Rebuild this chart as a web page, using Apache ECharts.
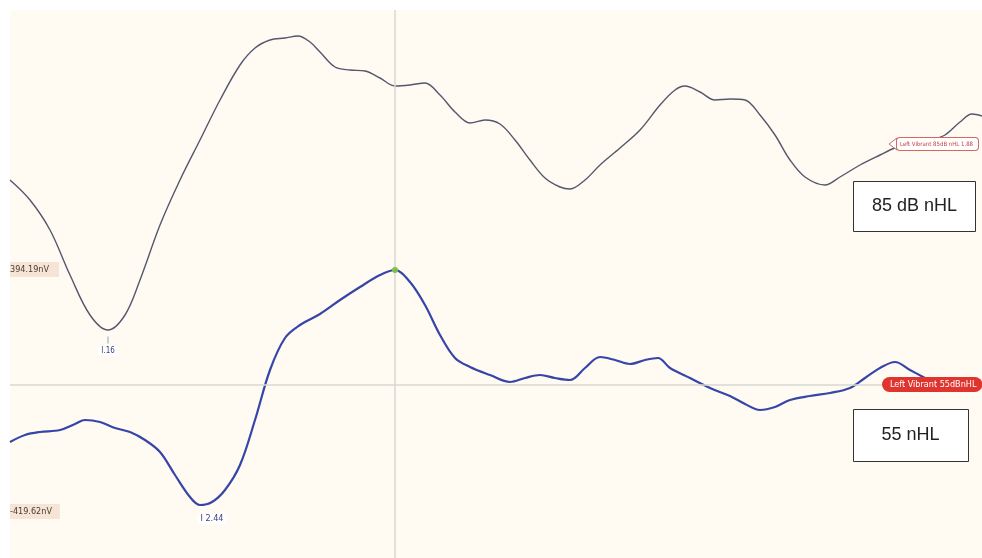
<!DOCTYPE html>
<html>
<head>
<meta charset="utf-8">
<script src="https://cdn.jsdelivr.net/npm/echarts@6/dist/echarts.min.js"></script>
<style>
  html, body { margin: 0; padding: 0; background: #fff; }
  #abrChart { width: 982px; height: 558px; }
</style>
</head>
<body>
<div id="abrChart"></div>
<script>
// time in ms, amplitude in display units (0 = baseline of the 55 dB trace)
var topTime = [0, 0.2, 0.4, 0.6, 0.8, 0.98, 1.15, 1.3, 1.5, 1.7, 1.9, 2.1, 2.3, 2.45, 2.6, 2.75, 2.88, 3.0, 3.1, 3.25,
  3.4, 3.55, 3.7, 3.85, 4.0, 4.15, 4.3, 4.45, 4.6, 4.75, 4.9, 5.05, 5.2, 5.35, 5.5, 5.6, 5.75, 5.9, 6.1, 6.3,
  6.5, 6.65, 6.75, 6.9, 7.05, 7.2, 7.35, 7.5, 7.65, 7.8, 7.95, 8.15, 8.3, 8.5, 8.7, 8.85, 9.0, 9.2, 9.35, 9.5, 9.62, 9.72];
var topAmp = [205, 185, 155, 110, 70, 55, 70, 105, 160, 205, 245, 285, 320, 337, 345, 347, 349, 343, 333, 318,
  315, 314, 307, 299, 300, 302, 290, 273, 262, 265, 261, 245, 225, 207, 198, 196, 205, 220, 237, 255,
  280, 295, 299, 293, 285, 286, 285, 270, 250, 225, 208, 200, 208, 220, 230, 237, 240, 245, 250, 263, 271, 269];

var bottomTime = [0, 0.15, 0.3, 0.5, 0.65, 0.75, 0.9, 1.05, 1.2, 1.35, 1.5, 1.65, 1.8, 1.9, 2.02, 2.15, 2.3, 2.45, 2.6, 2.75,
  2.9, 3.1, 3.3, 3.5, 3.7, 3.85, 4.0, 4.15, 4.3, 4.45, 4.6, 4.8, 5.0, 5.15, 5.3, 5.45, 5.6, 5.75, 5.9, 6.05,
  6.2, 6.35, 6.48, 6.6, 6.8, 7.0, 7.2, 7.35, 7.5, 7.65, 7.8, 8.0, 8.2, 8.4, 8.55, 8.7, 8.85, 9.0, 9.15];
var bottomAmp = [-57, -50, -47, -45, -39, -35, -37, -43, -47, -55, -67, -90, -112, -120, -117, -105, -80, -35, 15, 47,
  60, 71, 85, 98, 110, 115, 103, 80, 50, 27, 18, 10, 3, 7, 10, 7, 5, 17, 28, 25,
  21, 25, 27, 17, 7, -3, -11, -19, -25, -22, -15, -11, -8, -3, 7, 17, 23, 15, 7];

var cursorTime = 3.85;
var topWaveI = [0.98, 55];
var bottomWaveI = [1.9, -120];
var bottomPeak = [3.85, 115];

function pairs(xs, ys) {
    return xs.map(function (x, i) { return [x, ys[i]]; });
}

var chart = echarts.init(document.getElementById('abrChart'));

chart.setOption({
    animation: false,
    backgroundColor: '#ffffff',
    grid: {
        left: 10, right: 0, top: 10, bottom: 0,
        show: true,
        backgroundColor: '#fffaf2',
        borderWidth: 0
    },
    xAxis: {
        type: 'value', min: 0, max: 9.72,
        show: false
    },
    yAxis: {
        type: 'value', min: -173, max: 375,
        show: false
    },
    graphic: [
        // left amplitude tags
        {
            type: 'text', left: 10, top: 262, z: 10,
            style: {
                text: '394.19nV', fill: '#4a3a34', font: '9px "DejaVu Sans Condensed"',
                backgroundColor: '#f6e5d6', padding: [3, 10, 3, 0]
            }
        },
        {
            type: 'text', left: 10, top: 504, z: 10,
            style: {
                text: '-419.62nV', fill: '#4a3a34', font: '9px "DejaVu Sans Condensed"',
                backgroundColor: '#f6e5d6', padding: [3, 8, 3, 0]
            }
        },
        // right trace tags
        {
            type: 'polygon', z: 10,
            shape: { points: [[889, 144], [897, 138], [897, 150]] },
            style: { fill: '#ffffff', stroke: '#d06a60', lineWidth: 1 }
        },
        {
            type: 'text', left: 896, top: 137, z: 11,
            style: {
                text: 'Left Vibrant 85dB nHL 1.88', fill: '#c8403a', font: '6px "DejaVu Sans Condensed"',
                backgroundColor: '#ffffff', borderColor: '#d06a60', borderWidth: 1,
                borderRadius: 3, padding: [3, 5, 3, 3]
            }
        },
        {
            type: 'text', left: 882, top: 377, z: 10,
            style: {
                text: 'Left Vibrant 55dBnHL', fill: '#ffffff', font: '9px "DejaVu Sans Condensed"',
                backgroundColor: '#e0352f', borderRadius: 8, padding: [3, 6, 3, 8]
            }
        },
        // level boxes
        {
            type: 'group', left: 853, top: 181, z: 20,
            children: [
                { type: 'rect', shape: { x: 0, y: 0, width: 122, height: 50 },
                  style: { fill: '#ffffff', stroke: '#333333', lineWidth: 1 } },
                { type: 'text', x: 61, y: 25,
                  style: { text: '85 dB nHL', fill: '#222222', font: '18px "Liberation Sans"',
                           align: 'center', verticalAlign: 'middle' } }
            ]
        },
        {
            type: 'group', left: 853, top: 409, z: 20,
            children: [
                { type: 'rect', shape: { x: 0, y: 0, width: 115, height: 52 },
                  style: { fill: '#ffffff', stroke: '#333333', lineWidth: 1 } },
                { type: 'text', x: 57, y: 26,
                  style: { text: '55 nHL', fill: '#222222', font: '18px "Liberation Sans"',
                           align: 'center', verticalAlign: 'middle' } }
            ]
        }
    ],
    series: [
        {
            name: '85 dB nHL',
            type: 'line',
            smooth: 0.35,
            symbol: 'none',
            data: pairs(topTime, topAmp),
            lineStyle: { color: '#54576e', width: 1.4 },
            markLine: {
                silent: true,
                symbol: 'none',
                label: { show: false },
                lineStyle: { color: '#d9d8d0', width: 1.5, type: 'solid' },
                data: [{ xAxis: cursorTime }, { yAxis: 0 }]
            },
            markPoint: {
                symbol: 'rect',
                symbolSize: [1, 7],
                symbolOffset: [0, 10],
                itemStyle: { color: '#9aa0c0' },
                label: {
                    show: true, position: 'bottom', distance: 2,
                    color: '#3a3f80', fontSize: 8, fontFamily: 'DejaVu Sans Condensed',
                    backgroundColor: '#ffffff', padding: [1, 3],
                    formatter: 'I.16'
                },
                data: [{ coord: topWaveI }]
            }
        },
        {
            name: '55 nHL',
            type: 'line',
            smooth: 0.35,
            symbol: 'none',
            data: pairs(bottomTime, bottomAmp),
            lineStyle: { color: '#3646a8', width: 2.2 },
            markPoint: {
                data: [
                    {
                        coord: bottomWaveI,
                        symbol: 'rect', symbolSize: [1, 1],
                        itemStyle: { color: 'transparent' },
                        label: {
                            show: true, position: 'bottom', distance: 8, offset: [12, 0],
                            color: '#3a3f80', fontSize: 9, fontFamily: 'DejaVu Sans Condensed',
                            backgroundColor: '#ffffff', padding: [1, 3],
                            formatter: 'I 2.44'
                        }
                    },
                    {
                        coord: bottomPeak,
                        symbol: 'circle', symbolSize: 6,
                        itemStyle: { color: '#7cc04a' },
                        label: { show: false }
                    }
                ]
            }
        }
    ]
});
</script>
</body>
</html>
